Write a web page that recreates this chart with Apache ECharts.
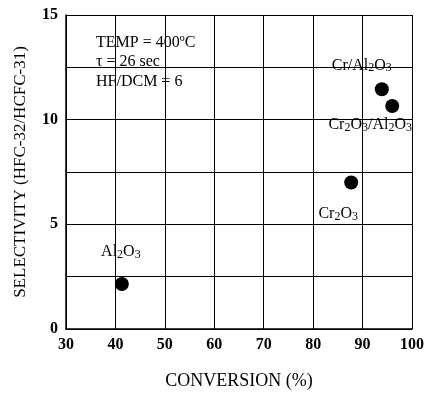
<!DOCTYPE html>
<html>
<head>
<meta charset="utf-8">
<script src="https://cdn.jsdelivr.net/npm/echarts@6/dist/echarts.min.js"></script>
<style>html,body{margin:0;background:#fff}#c{width:427px;height:395px}</style>
</head>
<body>
<div id="c"></div>
<script>
// catalyst names use {s|..} for subscript digits
const CATALYSTS = ['Al{s|2}O{s|3}', 'Cr{s|2}O{s|3}', 'Cr/Al{s|2}O{s|3}', 'Cr{s|2}O{s|3}/Al{s|2}O{s|3}'];
const CONVERSION = [41.3, 87.7, 93.9, 96.0];
const SELECTIVITY = [2.15, 7.0, 11.45, 10.65];
const CONDITIONS = ['TEMP = 400ºC', 'τ = 26 sec', 'HF/DCM = 6'];

const SERIF = '"Liberation Serif", "DejaVu Serif", serif';
// label offsets from the marker centre
const LABEL_OFFSET = [[-1, -32], [-13, 31], [-20, -24], [-22, 19]];

const chart = echarts.init(document.getElementById('c'));
chart.setOption({
  backgroundColor: '#fff',
  animation: false,
  title: {
    text: CONDITIONS.join('\n'),
    left: 91, top: 28,
    textStyle: { fontFamily: SERIF, fontSize: 16, fontWeight: 'normal', color: '#000', lineHeight: 19.5 },
  },
  grid: { left: 66, right: 15, top: 15, bottom: 66, outerBoundsMode: 'none' },
  xAxis: {
    type: 'value', min: 30, max: 100, interval: 10,
    name: 'CONVERSION (%)', nameLocation: 'middle', nameGap: 43,
    nameTextStyle: { fontFamily: SERIF, fontSize: 18, color: '#000' },
    axisLine: { lineStyle: { color: '#000', width: 1.5 } },
    axisTick: { show: false },
    axisLabel: { fontFamily: SERIF, fontSize: 16, fontWeight: 'bold', color: '#000', margin: 8 },
    splitLine: { lineStyle: { color: '#000', width: 1 } },
  },
  yAxis: {
    type: 'value', min: 0, max: 15, interval: 2.5,
    name: 'SELECTIVITY (HFC-32/HCFC-31)', nameLocation: 'middle', nameGap: 37,
    nameTextStyle: { fontFamily: SERIF, fontSize: 17, color: '#000' },
    axisLine: { lineStyle: { color: '#000', width: 1.5 } },
    axisTick: { show: false },
    axisLabel: {
      fontFamily: SERIF, fontSize: 16, fontWeight: 'bold', color: '#000', margin: 8,
      formatter: v => (v % 5 === 0 ? String(v) : ''),
    },
    splitLine: { lineStyle: { color: '#000', width: 1 } },
  },
  series: [{
    type: 'scatter',
    symbolSize: 14,
    itemStyle: { color: '#000', opacity: 1 },
    emphasis: { disabled: true },
    data: CATALYSTS.map((name, i) => ({
      name,
      value: [CONVERSION[i], SELECTIVITY[i]],
      label: { offset: LABEL_OFFSET[i] },
    })),
    label: {
      show: true, position: 'inside', formatter: '{b}',
      fontFamily: SERIF, fontSize: 16, color: '#000', opacity: 1,
      textBorderWidth: 0,
      rich: {
        s: { fontFamily: SERIF, fontSize: 12, color: '#000', padding: [6, 0, 0, 0] },
      },
    },
  }],
});
</script>
</body>
</html>
